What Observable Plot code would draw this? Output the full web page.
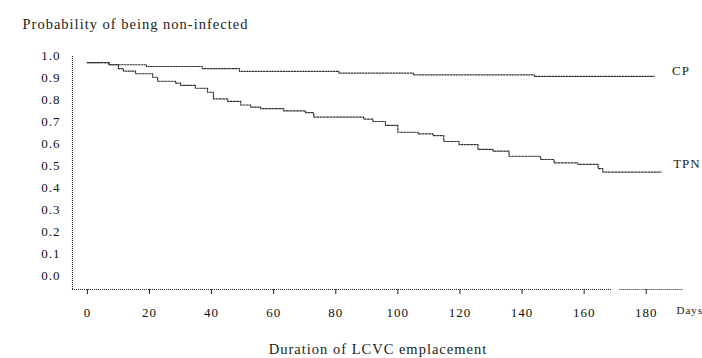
<!DOCTYPE html>
<html>
<head>
<meta charset="utf-8">
<script src="https://cdn.jsdelivr.net/npm/d3@7"></script>
<script src="https://cdn.jsdelivr.net/npm/@observablehq/plot@0.6"></script>
<style>
  html, body { margin: 0; padding: 0; background: #fff; }
  svg { display: block; }
</style>
</head>
<body>
<div id="chart"></div>
<script>
const title = "Probability of being non-infected";
const xLabel = "Duration of LCVC emplacement";
const xUnit = "Days";
const seriesNames = ["CP", "TPN"];
const xTicks = [0, 20, 40, 60, 80, 100, 120, 140, 160, 180];
const yTicks = [0, 0.1, 0.2, 0.3, 0.4, 0.5, 0.6, 0.7, 0.8, 0.9, 1.0];

const cpDays = [0, 7, 19, 37, 49, 81, 105, 144, 182.5];
const cpSurv = [0.968, 0.958, 0.95, 0.94, 0.928, 0.92, 0.912, 0.905, 0.905];

const tpnDays = [0, 7, 10, 11.6, 15.5, 21, 22.6, 28.4, 30, 34.8, 38.7, 40.6, 45.2, 49.4, 52.6, 55.8, 63.2, 70.3, 72.9, 89, 92, 96, 100, 106.5, 111.3, 114.8, 119.7, 125.8, 130.6, 135.8, 146, 150.3, 158, 164.5, 166, 184.8];
const tpnSurv = [0.968, 0.958, 0.94, 0.929, 0.917, 0.901, 0.883, 0.874, 0.864, 0.851, 0.833, 0.803, 0.791, 0.775, 0.765, 0.758, 0.748, 0.74, 0.72, 0.711, 0.70, 0.682, 0.651, 0.644, 0.636, 0.609, 0.595, 0.573, 0.565, 0.542, 0.527, 0.512, 0.505, 0.486, 0.47, 0.47];

const cp = cpDays.map((d, i) => ({day: d, s: cpSurv[i], g: seriesNames[0]}));
const tpn = tpnDays.map((d, i) => ({day: d, s: tpnSurv[i], g: seriesNames[1]}));

const font = "'Liberation Serif', 'DejaVu Serif', serif";
const xMin = -4.8, xMax = 192, yMin = -0.064, yMax = 1.0;

const chart = Plot.plot({
  width: 702,
  height: 358,
  marginLeft: 72,
  marginRight: 19,
  marginTop: 55,
  marginBottom: 69,
  style: {fontFamily: font, fontSize: "13px", color: "#111", background: "#fff", letterSpacing: "1px"},
  x: {domain: [xMin, xMax]},
  y: {domain: [yMin, yMax]},
  marks: [
    Plot.axisX({ticks: xTicks, tickSize: 5, tickPadding: 13, label: null, stroke: "#222"}),
    Plot.axisY({ticks: yTicks, tickSize: 0, tickPadding: 12, label: null, tickFormat: d3.format(".1f")}),
    Plot.ruleX([xMin], {y1: yMin, y2: yMax, stroke: "#222", strokeDasharray: "1,1", strokeWidth: 1.2}),
    Plot.ruleY([yMin], {x1: xMin, x2: 169, stroke: "#222", strokeDasharray: "1,1", strokeWidth: 1.2}),
    Plot.ruleY([yMin], {x1: 171.5, x2: xMax, stroke: "#222", strokeDasharray: "1,1", strokeWidth: 1.2}),
    Plot.line(cp, {x: "day", y: "s", curve: "step-after", stroke: "#333", strokeWidth: 1.2, strokeDasharray: "1.5,1.3"}),
    Plot.line(tpn, {x: "day", y: "s", curve: "step-after", stroke: "#333", strokeWidth: 1.2, strokeDasharray: "2,1.3"}),
    Plot.text(cp, Plot.selectLast({x: "day", y: "s", text: "g", textAnchor: "start", dx: 18, dy: -6, fontSize: 13, fill: "#222"})),
    Plot.text(tpn, Plot.selectLast({x: "day", y: "s", text: "g", textAnchor: "start", dx: 12, dy: -8, fontSize: 13, fill: "#222"})),
    Plot.text([title], {frameAnchor: "top-left", textAnchor: "start", dx: -50, dy: -37, fontSize: 14.5, fill: "#222"}),
    Plot.text([xLabel], {frameAnchor: "bottom", dy: 64, fontSize: 14.5, fill: "#222"}),
    Plot.text([xUnit], {frameAnchor: "bottom-right", textAnchor: "start", dx: -7, dy: 24, fontSize: 11, fill: "#222"})
  ]
});
document.getElementById("chart").append(chart);
</script>
</body>
</html>
